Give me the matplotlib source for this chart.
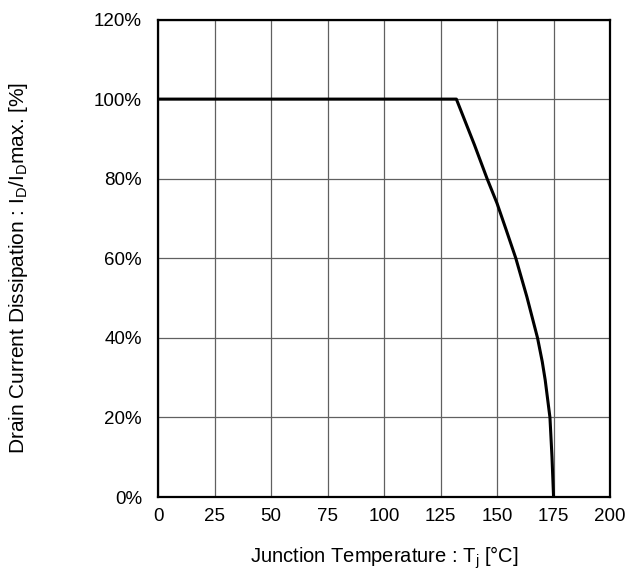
import numpy as np
import matplotlib
matplotlib.use("Agg")
import matplotlib.pyplot as plt
from matplotlib.ticker import FuncFormatter

plt.rcParams['font.family'] = ['Liberation Sans', 'DejaVu Sans']
plt.rcParams['mathtext.fontset'] = 'custom'
plt.rcParams['mathtext.rm'] = 'Liberation Sans'
plt.rcParams['mathtext.it'] = 'Liberation Sans'
plt.rcParams['mathtext.default'] = 'regular'

# derating curve
temp = [0, 132, 140, 145.6, 150, 154, 158.3, 163.2, 167.9, 170, 171.3, 173.4, 174.3, 175]
current = [100, 100, 88.5, 80, 73.8, 67.2, 60, 50.3, 40, 34, 29.4, 20, 10.1, 0]

x_ticks = [0, 25, 50, 75, 100, 125, 150, 175, 200]
y_ticks = [0, 20, 40, 60, 80, 100, 120]


def main():
    fig = plt.figure(figsize=(6.27, 5.83), dpi=100)
    ax = fig.add_axes([0.252, 0.1475, 0.721, 0.819])

    ax.plot(temp, current, color="black", lw=2.2, solid_joinstyle="round", zorder=3)

    ax.set_xlim(0, 200)
    ax.set_ylim(0, 120)
    ax.set_xticks(x_ticks)
    ax.set_yticks(y_ticks)
    ax.yaxis.set_major_formatter(FuncFormatter(lambda v, p: "{:d}%".format(int(v))))
    ax.tick_params(length=0, labelsize=13.5)
    ax.tick_params(axis="x", pad=8)
    ax.tick_params(axis="y", pad=11.5)
    ax.grid(True, color="#606060", lw=0.9)
    for s in ax.spines.values():
        s.set_linewidth(1.6)
        s.set_color("black")

    ax.set_xlabel("Junction Temperature : T$_j$ [°C]", fontsize=14.5, labelpad=14)
    ax.set_ylabel("Drain Current Dissipation : I$_D$/I$_D$max. [%]", fontsize=15)
    ax.yaxis.set_label_coords(-0.283, 0.479)

    fig.savefig("out.png", dpi=100)


if __name__ == "__main__":
    main()
